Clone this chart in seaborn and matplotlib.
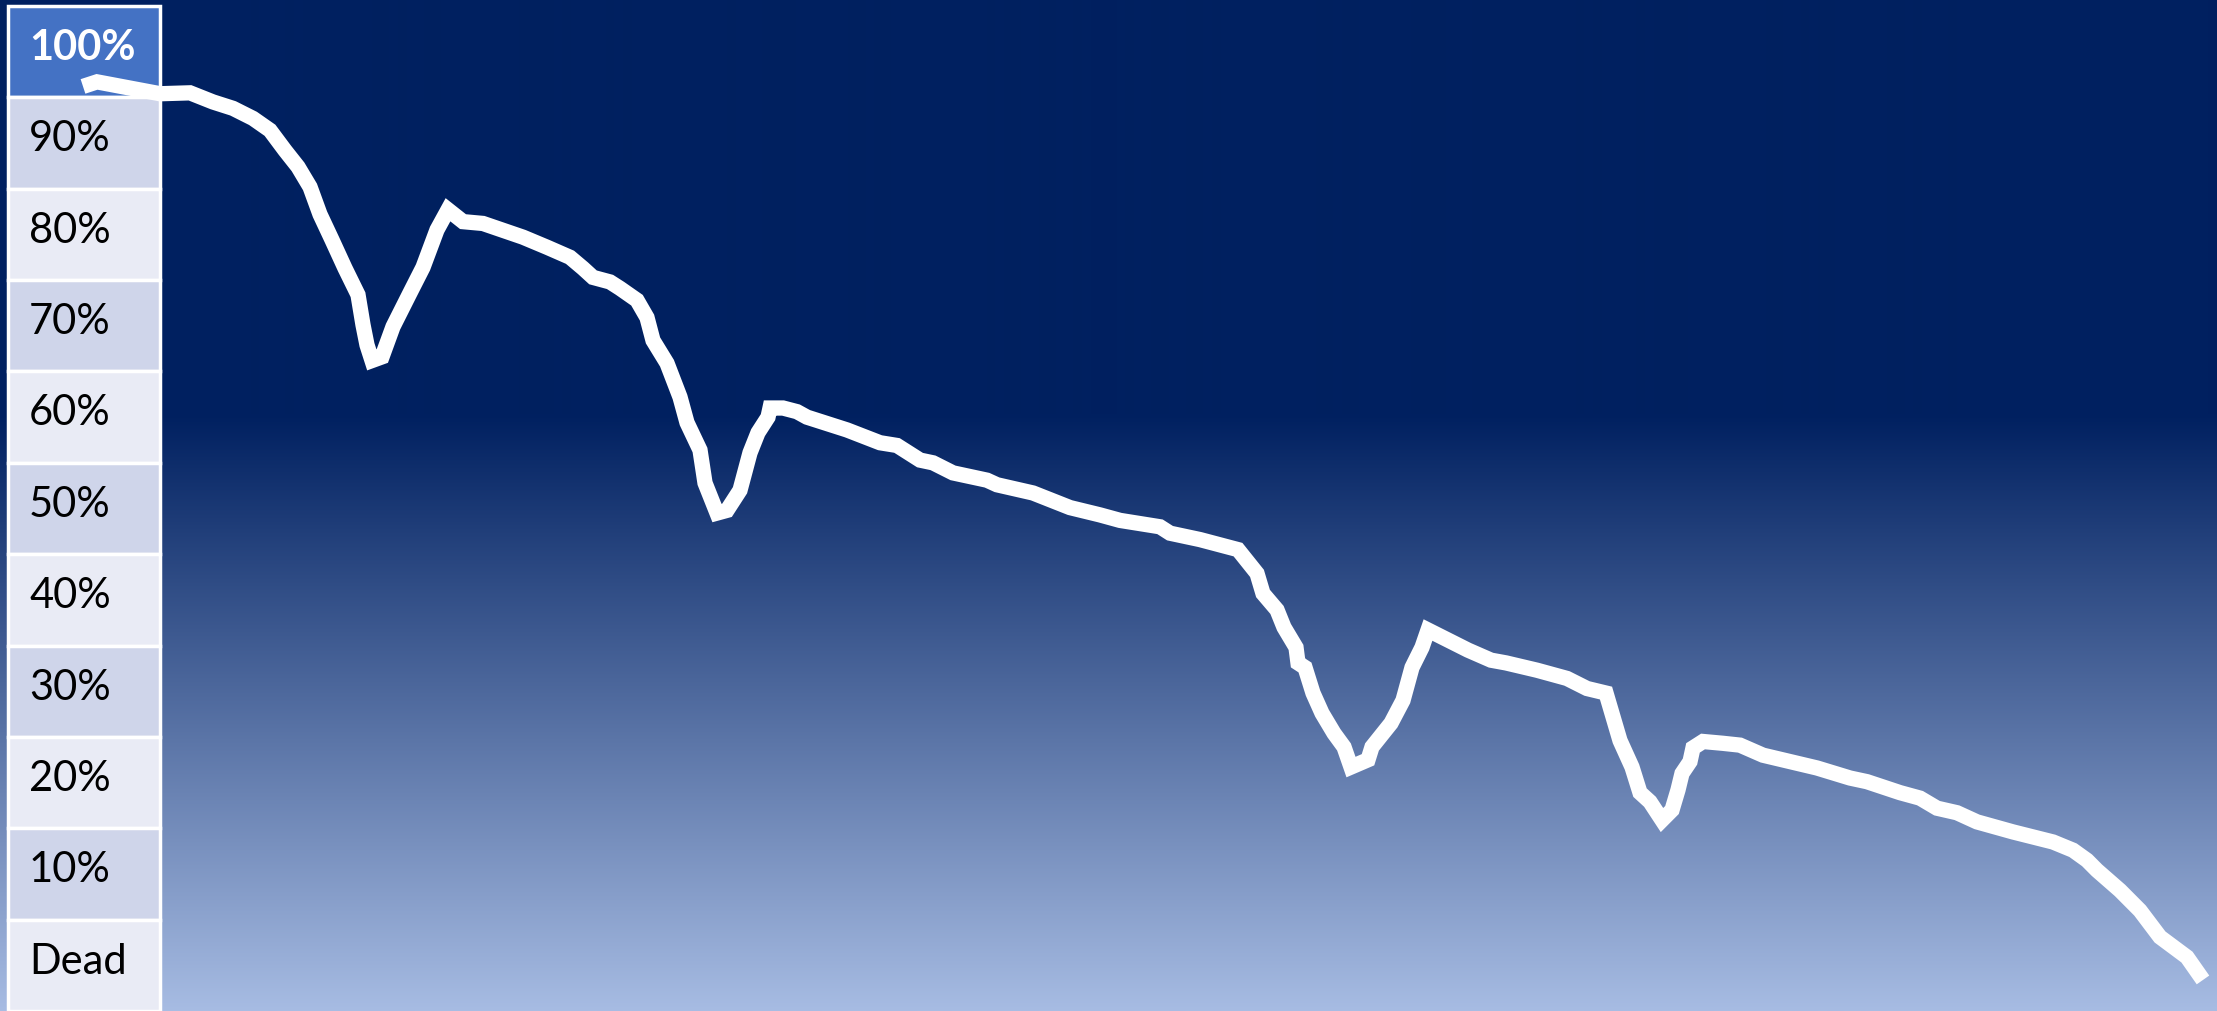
import numpy as np
import pandas as pd
import matplotlib
matplotlib.use("Agg")
import matplotlib.pyplot as plt
import seaborn as sns

sns.set_style("white")
plt.rcParams['font.family'] = ['Lato', 'DejaVu Sans']

# health scale rows (top to bottom)
row_labels = ['100%', '90%', '80%', '70%', '60%', '50%', '40%', '30%', '20%', '10%', 'Dead']
row_levels = [100, 90, 80, 70, 60, 50, 40, 30, 20, 10, 0]

# health over time
time = [8.3, 9.7, 16.0, 19.0, 21.3, 23.3, 25.3, 27.0, 28.5, 29.8, 31.0, 32.0, 33.2,
        34.5, 35.8, 36.3, 36.7, 37.2, 38.2, 39.3, 41.0, 42.3, 43.7, 44.8, 46.3, 48.3,
        50.7, 52.3, 54.7, 57.0, 58.3, 59.3, 61.0, 62.0, 63.7, 64.7, 65.3, 66.7, 68.0,
        68.7, 70.0, 70.5, 71.7, 72.7, 74.0, 75.0, 75.8, 76.8, 77.0, 78.3, 79.7, 80.7,
        84.7, 88.0, 89.7, 92.0, 93.3, 95.3, 98.7, 99.7, 103.3, 107.0, 110.0, 112.0,
        116.0, 117.0, 120.0, 123.8, 125.7, 126.3, 127.7, 128.4, 129.6, 129.8, 130.5,
        131.3, 132.2, 133.4, 134.4, 135.1, 136.8, 137.2, 139.1, 140.3, 141.2, 142.2,
        142.8, 146.8, 149.1, 150.6, 153.7, 156.7, 158.7, 160.6, 161.3, 162.0, 163.2,
        164.0, 165.0, 166.2, 167.2, 167.8, 168.2, 169.0, 169.3, 170.3, 172.3, 174.0,
        176.3, 179.0, 181.7, 185.0, 186.7, 190.0, 192.0, 193.7, 195.7, 197.7, 201.3,
        205.3, 207.3, 208.7, 209.7, 212.0, 214.0, 216.0, 218.7, 220.3]
health = [96.2, 96.7, 95.4, 95.5, 94.5, 93.8, 92.7, 91.4, 89.2, 87.4, 85.2, 82.2, 79.4,
          76.3, 73.4, 70.1, 67.9, 66.2, 66.6, 69.9, 73.6, 76.4, 80.5, 82.7, 81.4, 81.2,
          80.3, 79.7, 78.6, 77.5, 76.3, 75.3, 74.8, 74.1, 72.8, 70.9, 68.4, 65.9, 62.2,
          59.4, 56.4, 52.8, 49.5, 49.8, 52.0, 56.1, 58.3, 60.0, 61.0, 61.0, 60.6, 60.0,
          58.6, 57.2, 56.9, 55.3, 55.0, 53.9, 53.1, 52.6, 51.7, 50.1, 49.3, 48.7,
          48.0, 47.3, 46.6, 45.5, 42.9, 40.7, 38.9, 37.0, 34.8, 33.1, 32.6,
          29.8, 27.6, 25.4, 23.9, 21.7, 22.5, 23.9, 26.5, 29.0, 32.6, 34.8,
          36.7, 34.5, 33.4, 33.1, 32.3, 31.4, 30.3, 29.8, 27.2, 24.6, 21.7,
          18.9, 17.9, 15.9, 17.0, 19.2, 21.0, 22.3, 23.8, 24.5, 24.3, 24.1,
          23.0, 22.3, 21.6, 20.5, 20.1, 18.9, 18.3, 17.2, 16.7, 15.7, 14.6,
          13.5, 12.6, 11.5, 10.4, 8.2, 6.0, 3.1, 0.9, -1.6]

df = pd.DataFrame({'time': time, 'health': health})

fig = plt.figure(figsize=(22.17, 10.11), dpi=100)
ax = fig.add_axes([0, 0, 1, 1])
x0, x1 = 0, 221.7
y0, y1 = -5.0, 105.66

# background gradient: solid navy on top, fading to light blue
n = 1011
top = np.array([0, 32, 96]) / 255
bottom = np.array([167, 188, 227]) / 255
frac = np.linspace(0, 1, n)
t = np.clip((frac - 0.41) / 0.59, 0, 1)
grad = top[None, :] * (1 - t[:, None]) + bottom[None, :] * t[:, None]
ax.imshow(grad[:, None, :], extent=[x0, x1, y0, y1], aspect='auto', zorder=0)

# left table of health levels
cell_colors = ['#4472C4'] + ['#CFD5EA' if i % 2 == 0 else '#E9EBF5' for i in range(10)]
ax.barh(row_levels, width=15.2, left=0.8, height=10, color=cell_colors,
        edgecolor='white', linewidth=2.5, zorder=2)
for lab, lev in zip(row_labels, row_levels):
    first = lab == '100%'
    ax.text(2.9, lev + 0.4, lab, fontsize=30, va='center', ha='left',
            color='white' if first else 'black',
            fontweight='bold' if first else 'normal', zorder=3)

sns.lineplot(data=df, x='time', y='health', sort=False, estimator=None,
             color='white', linewidth=11, ax=ax, zorder=4)
for ln in ax.get_lines():
    ln.set_solid_joinstyle('miter')
    ln.set_solid_capstyle('butt')

ax.set_xlim(x0, x1)
ax.set_ylim(y0, y1)
ax.axis('off')

fig.savefig('out.png', dpi=100)
